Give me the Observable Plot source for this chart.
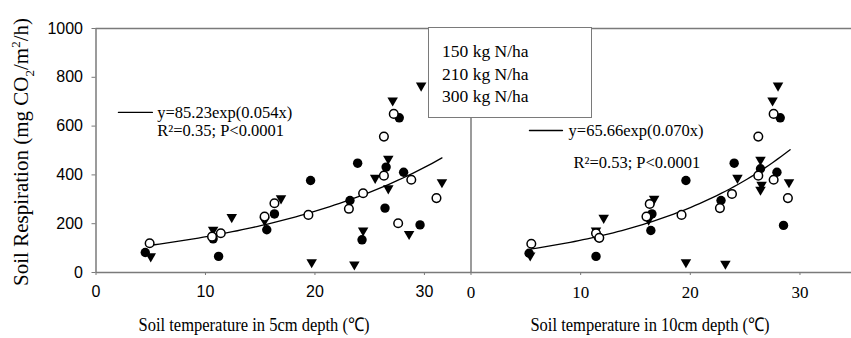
<!DOCTYPE html>
<html><head><meta charset="utf-8">
<script src="https://cdn.jsdelivr.net/npm/d3@7"></script>
<script src="https://cdn.jsdelivr.net/npm/@observablehq/plot@0.6"></script>
<style>
html,body{margin:0;padding:0;background:#fff;}
#chart{position:relative;width:851px;height:338px;overflow:hidden;font-family:"Liberation Serif","Times New Roman",serif;color:#000;}
#chart svg{position:absolute;left:0;top:0;}
#chart svg.serifticks text{font-family:"Liberation Serif","Times New Roman",serif;}
.legend{position:absolute;left:428px;top:27px;width:162px;height:77px;padding-top:12px;border:1.5px solid #7a7a7a;background:#fff;font-size:17.5px;line-height:22.5px;box-sizing:content-box;}
.legend div{padding-left:13px;}
.xtitle{position:absolute;top:312px;font-size:16.5px;white-space:nowrap;transform:translateX(-50%) scaleY(1.15);}
.ytitle{position:absolute;left:23px;top:152px;font-size:21px;white-space:nowrap;transform:translate(-50%,-50%) rotate(-90deg);}
</style></head><body>
<div id="chart"></div>
<script>
// ---------- data ----------
const nLevels = ["150 kg N/ha", "210 kg N/ha", "300 kg N/ha"];
const yTicks = [0, 200, 400, 600, 800, 1000];
const xTicks = [0, 10, 20, 30];

// 5 cm depth panel
const filled5X = [4.5, 10.7, 11.2, 15.6, 16.3, 19.6, 23.2, 23.9, 24.3, 26.4, 26.5, 27.7, 28.1, 29.6];
const filled5Y = [82, 138, 66, 175, 240, 377, 295, 448, 134, 264, 432, 634, 411, 195];
const open5X = [4.9, 10.6, 11.4, 15.4, 16.3, 19.4, 23.1, 24.4, 26.3, 26.3, 27.2, 27.6, 28.8, 31.1];
const open5Y = [120, 147, 161, 229, 284, 236, 261, 325, 557, 397, 650, 202, 380, 305];
const tri5X = [5.0, 10.7, 12.4, 15.4, 16.9, 19.7, 23.6, 24.4, 25.5, 26.7, 26.7, 27.1, 29.7, 28.6, 31.6];
const tri5Y = [66, 175, 227, 213, 304, 42, 33, 172, 388, 466, 345, 705, 766, 158, 370];

// 10 cm depth panel
const filled10X = [5.3, 11.4, 11.6, 16.4, 16.5, 19.6, 22.8, 24.0, 26.4, 27.9, 28.2, 28.5];
const filled10Y = [79, 66, 145, 172, 240, 377, 295, 448, 425, 411, 634, 193];
const open10X = [5.5, 11.4, 11.7, 16.0, 16.3, 19.2, 22.7, 23.8, 26.2, 26.2, 27.6, 27.6, 28.9];
const open10Y = [118, 161, 142, 229, 281, 236, 264, 322, 557, 397, 650, 380, 305];
const tri10X = [5.4, 11.4, 12.1, 16.2, 16.7, 19.6, 23.2, 24.3, 26.4, 26.4, 26.5, 27.5, 28.0, 29.0];
const tri10Y = [70, 172, 224, 216, 302, 42, 36, 388, 462, 339, 360, 705, 766, 370];

// fitted exponential curves y = a*exp(b*x), as printed on the chart
const fitA = [85.23, 65.66];
const fitB = [0.054, 0.070];
const fitFrom = [4.9, 5.5];
const fitTo = [31.6, 29.1];
const eqLine1 = ["y=85.23exp(0.054x)", "y=65.66exp(0.070x)"];
const eqLine2 = ["R\u00b2=0.35; P<0.0001", "R\u00b2=0.53; P<0.0001"];
// annotation anchors in data units: [keyX1, keyX2, keyY, text1X, text1Y, text2X, text2Y]
const eqPos5 = [2.05, 5.15, 656, 5.6, 656, 5.6, 582];
const eqPos10 = [5.33, 8.34, 582, 8.9, 582, 9.35, 451];

// ---------- helpers ----------
const zip = (xs, ys) => xs.map((x, i) => ({x, y: ys[i]}));
function curve(i) {
  const pts = [];
  const n = 60;
  for (let k = 0; k <= n; k++) {
    const x = fitFrom[i] + (fitTo[i] - fitFrom[i]) * k / n;
    pts.push({x, y: fitA[i] * Math.exp(fitB[i] * x)});
  }
  return pts;
}
const AX = "#7a7a7a";
const W = 851, H = 338;

function panel(opts) {
  const {filled, open, tri, fitIdx, eq, left, right, xmax, tickFont, tickSize, showY} = opts;
  const marks = [
    Plot.ruleY([0], {stroke: AX, strokeWidth: 1.5}),
    Plot.ruleY([1000], {stroke: AX, strokeWidth: 1.5}),
    Plot.ruleX([0], {stroke: AX, strokeWidth: 1.5}),
    Plot.axisX({ticks: xTicks, tickSize: 3, tickPadding: 10, label: null, stroke: AX, fill: "#000",
      fontFamily: tickFont, fontSize: tickSize, tickFormat: d => String(d)}),
  ];
  if (showY) {
    marks.push(Plot.axisY({ticks: yTicks, tickSize: 4, tickPadding: 9, label: null, stroke: AX, fill: "#000",
      fontFamily: "Liberation Sans", fontSize: 16, tickFormat: d => String(d)}));
  }
  marks.push(
    Plot.line(curve(fitIdx), {x: "x", y: "y", stroke: "#000", strokeWidth: 1.3}),
    Plot.dot(zip(filled[0], filled[1]), {x: "x", y: "y", r: 4.7, fill: "#000", stroke: "none"}),
    Plot.dot(zip(tri[0], tri[1]), {x: "x", y: "y", r: 3.9, symbol: "triangle", rotate: 180, fill: "#000", stroke: "none"}),
    Plot.dot(zip(open[0], open[1]), {x: "x", y: "y", r: 4.3, fill: "#fff", stroke: "#000", strokeWidth: 1.5}),
    Plot.line([{x: eq[0], y: eq[2]}, {x: eq[1], y: eq[2]}], {x: "x", y: "y", stroke: "#000", strokeWidth: 1.3}),
    Plot.text([eqLine1[fitIdx]], {x: eq[3], y: eq[4], text: d => d, textAnchor: "start", fontFamily: "Liberation Serif", fontSize: 16.5, fill: "#000"}),
    Plot.text([eqLine2[fitIdx]], {x: eq[5], y: eq[6], text: d => d, textAnchor: "start", fontFamily: "Liberation Serif", fontSize: 16.5, fill: "#000"})
  );
  return Plot.plot({
    width: W, height: H,
    marginLeft: left, marginRight: right, marginTop: 28, marginBottom: 66,
    x: {domain: [0, xmax]},
    y: {domain: [0, 1000], axis: showY ? undefined : null},
    style: {background: "transparent", overflow: "visible", color: "#000", fontFamily: tickFont},
    marks
  });
}

const chart = document.getElementById("chart");
const p1 = panel({
  filled: [filled5X, filled5Y], open: [open5X, open5Y], tri: [tri5X, tri5Y],
  fitIdx: 0, eq: eqPos5, left: 95.5, right: W - 471, xmax: 34.3,
  tickFont: "Liberation Sans", tickSize: 16, showY: true
});
const p2 = panel({
  filled: [filled10X, filled10Y], open: [open10X, open10Y], tri: [tri10X, tri10Y],
  fitIdx: 1, eq: eqPos10, left: 470.5, right: 0, xmax: 34.7,
  tickFont: "Liberation Serif", tickSize: 17, showY: false
});
p2.classList.add("serifticks");
chart.appendChild(p1);
chart.appendChild(p2);

// legend box
const lg = document.createElement("div");
lg.className = "legend";
nLevels.forEach(t => { const d = document.createElement("div"); d.textContent = t; lg.appendChild(d); });
chart.appendChild(lg);

// axis titles
const xt1 = document.createElement("div");
xt1.className = "xtitle"; xt1.style.left = "254px";
xt1.textContent = "Soil temperature in 5cm depth (\u2103)";
chart.appendChild(xt1);
const xt2 = document.createElement("div");
xt2.className = "xtitle"; xt2.style.left = "650px";
xt2.textContent = "Soil temperature in 10cm depth (\u2103)";
chart.appendChild(xt2);
const yt = document.createElement("div");
yt.className = "ytitle";
yt.innerHTML = "Soil Respiration (mg CO<sub style='font-size:13px'>2</sub>/m<sup style='font-size:13px'>2</sup>/h)";
chart.appendChild(yt);
</script>
</body></html>
